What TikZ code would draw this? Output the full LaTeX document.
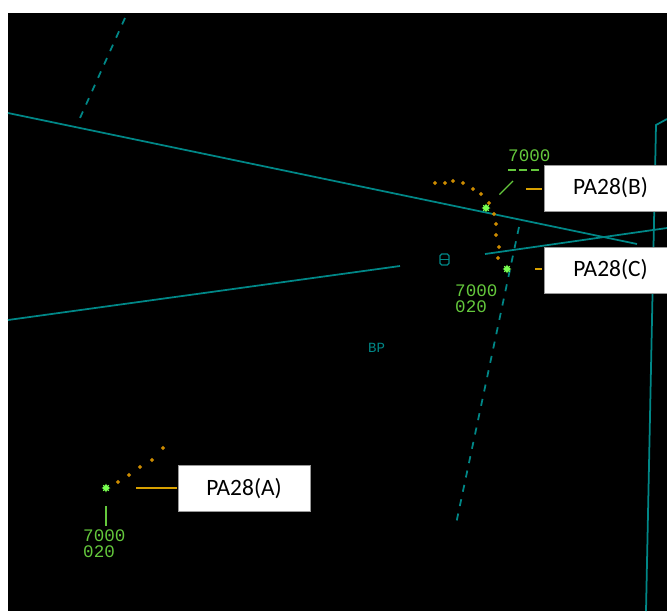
\documentclass[tikz,border=0pt]{standalone}
\usepackage{fontspec}
\newfontfamily\radarfont{Liberation Mono}
\newfontfamily\calloutfont{Carlito}
\usetikzlibrary{shapes.geometric}
\definecolor{scopeteal}{RGB}{0,135,135}
\definecolor{tagtext}{RGB}{100,200,60}
\definecolor{plotgreen}{RGB}{120,255,80}
\definecolor{historange}{RGB}{205,140,0}
\definecolor{leadgold}{RGB}{215,160,0}

\begin{document}
\begin{tikzpicture}[x=0.03cm, y=-0.03cm,
	map/.style={scopeteal, line width=1.5pt},
	mapdash/.style={map, dash pattern=on 6pt off 6.5pt},
	tag/.style={tagtext, font=\radarfont\fontsize{15}{16}\selectfont, inner sep=0pt, anchor=base west},
	plot/.style={star, star points=8, star point ratio=1.8, fill=plotgreen, minimum size=0.27cm, inner sep=0pt},
	hist/.style={diamond, fill=historange, minimum size=0.14cm, inner sep=0pt},
	tagline/.style={tagtext, line width=1.1pt},
	leader/.style={leadgold, line width=1.3pt},
	callout/.style={draw=gray!80, line width=0.8pt, fill=white, font=\calloutfont\fontsize{20}{24}\selectfont, inner sep=0pt, minimum height=1.38cm}]
	\useasboundingbox (0,0) rectangle (667,611);
	\clip (0,0) rectangle (667,611);
	\fill [white] (0,0) rectangle (667,611);
	\fill [black] (8,13) rectangle (667,611);
	% map lines
	\draw [map] (8,113) -- (637,244);
	\draw [map] (8,320) -- (400,266);
	\draw [map] (485,254) -- (667,228);
	\draw [map] (667,119) -- (656,125) -- (646,611);
	\draw [mapdash] (125,18) -- (80,118);
	\draw [mapdash] (519,227) -- (456,524);
	\draw [scopeteal, line width=1pt, rounded corners=1.5pt] (440,254) rectangle (449,265);
	\draw [scopeteal, line width=1pt] (440,259.5) -- (449,259.5);
	\node [tag, scopeteal, font=\radarfont\fontsize{12}{13}\selectfont] (bp) at (368,352) {BP};
	% history trails
	\node [hist] (hA1) at (118,482) {};
	\node [hist] (hA2) at (129,475) {};
	\node [hist] (hA3) at (140,467) {};
	\node [hist] (hA4) at (152,460) {};
	\node [hist] (hA5) at (163,448) {};
	\node [hist] (hB1) at (435,183) {};
	\node [hist] (hB2) at (445,183) {};
	\node [hist] (hB3) at (453,181) {};
	\node [hist] (hB4) at (463,183) {};
	\node [hist] (hB5) at (473,189) {};
	\node [hist] (hB6) at (481,194) {};
	\node [hist] (hB7) at (489,203) {};
	\node [hist] (hC1) at (494,214) {};
	\node [hist] (hC2) at (496,224) {};
	\node [hist] (hC3) at (496,235) {};
	\node [hist] (hC4) at (499,247) {};
	\node [hist] (hC5) at (498,258) {};
	% plots
	\node [plot] (plotA) at (106,488) {};
	\node [plot] (plotB) at (486,208) {};
	\node [plot] (plotC) at (507,269) {};
	% labels
	\node [tag] (tagB1) at (508,161) {7000};
	\draw [tagline, dash pattern=on 6.8pt off 3pt] (508,170) -- (540,170);
	\coordinate (tagB) at (513,181);
	\draw [tagline, shorten <=0.42cm] (plotB) -- (tagB);
	\node [tag] (tagC1) at (455,296) {7000};
	\node [tag] (tagC2) at (455,312) {020};
	\node [tag] (tagA1) at (83,541) {7000};
	\node [tag] (tagA2) at (83,557) {020};
	\coordinate (tagA) at (106,526);
	\draw [tagline, shorten <=0.39cm] (plotA) -- (tagA);
	% callouts
	\node [callout, minimum width=3.99cm] (boxB) at (610.5,188) {PA28(B)};
	\node [callout, minimum width=3.99cm] (boxC) at (610.5,270) {PA28(C)};
	\node [callout, minimum width=3.96cm] (boxA) at (244,488.5) {PA28(A)};
	\coordinate (legB) at (526,189);
	\draw [leader, shorten >=0.06cm] (legB) -- (legB -| boxB.west);
	\draw [leader, shorten <=0.69cm, shorten >=0.06cm] (plotC) -- (plotC -| boxC.west);
	\draw [leader, shorten <=0.75cm, shorten >=0.03cm] (plotA) -- (plotA -| boxA.west);
\end{tikzpicture}
\end{document}
